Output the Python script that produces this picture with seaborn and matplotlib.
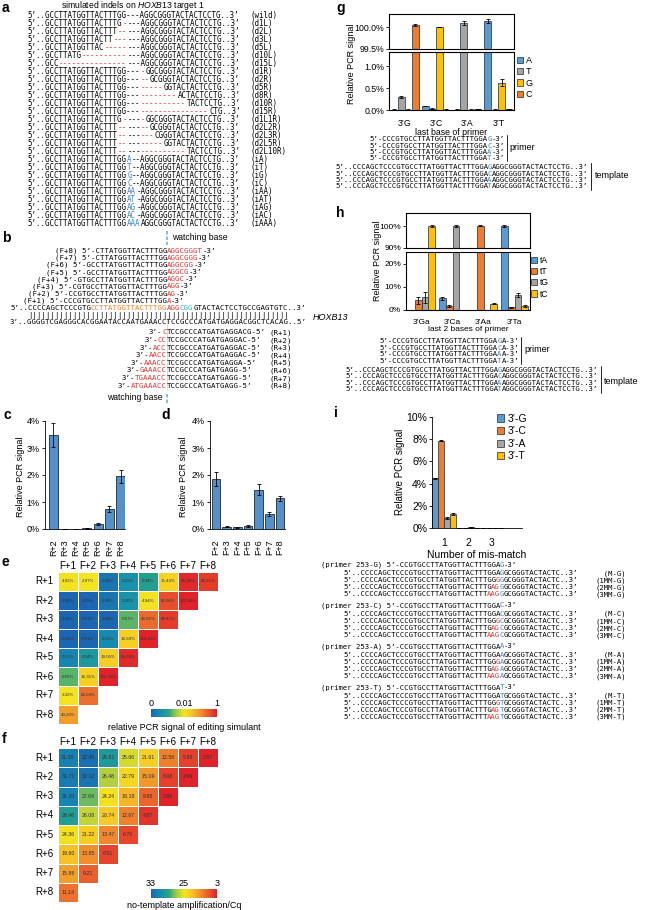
import re
import numpy as np
import pandas as pd
import matplotlib
matplotlib.use('Agg')
import matplotlib.pyplot as plt
from matplotlib.colors import LinearSegmentedColormap, Normalize
from matplotlib.cm import ScalarMappable
from matplotlib.patches import Patch
import seaborn as sns

sns.set_theme(style='white')
plt.rcParams['font.family'] = ['Liberation Sans', 'DejaVu Sans']
plt.rcParams.update({
    'text.color': 'black', 'axes.labelcolor': 'black',
    'xtick.color': 'black', 'ytick.color': 'black',
    'axes.edgecolor': 'black', 'axes.linewidth': 0.6,
    'mathtext.fontset': 'custom', 'mathtext.it': 'Liberation Sans:italic',
    'mathtext.rm': 'Liberation Sans',
})

#%% data
# a: simulated indels
a_seqs = [
    "5’..GCCTTATGGTTACTTTGG---AGGCGGGTACTACTCCTG..3’",
    "5’..GCCTTATGGTTACTTTG{r|-}---AGGCGGGTACTACTCCTG..3’",
    "5’..GCCTTATGGTTACTTT{r|--}---AGGCGGGTACTACTCCTG..3’",
    "5’..GCCTTATGGTTACTT{r|---}---AGGCGGGTACTACTCCTG..3’",
    "5’..GCCTTATGGTTAC{r|-----}---AGGCGGGTACTACTCCTG..3’",
    "5’..GCCTTATG{r|----------}---AGGCGGGTACTACTCCTG..3’",
    "5’..GCC{r|---------------}---AGGCGGGTACTACTCCTG..3’",
    "5’..GCCTTATGGTTACTTTGG---{r|-}GGCGGGTACTACTCCTG..3’",
    "5’..GCCTTATGGTTACTTTGG---{r|--}GCGGGTACTACTCCTG..3’",
    "5’..GCCTTATGGTTACTTTGG---{r|-----}GGTACTACTCCTG..3’",
    "5’..GCCTTATGGTTACTTTGG---{r|--------}ACTACTCCTG..3’",
    "5’..GCCTTATGGTTACTTTGG---{r|----------}TACTCCTG..3’",
    "5’..GCCTTATGGTTACTTTGG---{r|---------------}CTG..3’",
    "5’..GCCTTATGGTTACTTTG{r|-}---{r|-}GGCGGGTACTACTCCTG..3’",
    "5’..GCCTTATGGTTACTTT{r|--}---{r|--}GCGGGTACTACTCCTG..3’",
    "5’..GCCTTATGGTTACTTT{r|--}---{r|---}CGGGTACTACTCCTG..3’",
    "5’..GCCTTATGGTTACTTT{r|--}---{r|-----}GGTACTACTCCTG..3’",
    "5’..GCCTTATGGTTACTTT{r|--}---{r|----------}TACTCCTG..3’",
    "5’..GCCTTATGGTTACTTTGG{b|A}--AGGCGGGTACTACTCCTG..3’",
    "5’..GCCTTATGGTTACTTTGG{b|T}--AGGCGGGTACTACTCCTG..3’",
    "5’..GCCTTATGGTTACTTTGG{b|G}--AGGCGGGTACTACTCCTG..3’",
    "5’..GCCTTATGGTTACTTTGG{b|C}--AGGCGGGTACTACTCCTG..3’",
    "5’..GCCTTATGGTTACTTTGG{b|AA}-AGGCGGGTACTACTCCTG..3’",
    "5’..GCCTTATGGTTACTTTGG{b|AT}-AGGCGGGTACTACTCCTG..3’",
    "5’..GCCTTATGGTTACTTTGG{b|AG}-AGGCGGGTACTACTCCTG..3’",
    "5’..GCCTTATGGTTACTTTGG{b|AC}-AGGCGGGTACTACTCCTG..3’",
    "5’..GCCTTATGGTTACTTTGG{b|AAA}AGGCGGGTACTACTCCTG..3’",
]
a_names = ['(wild)', '(d1L)', '(d2L)', '(d3L)', '(d5L)', '(d10L)', '(d15L)',
           '(d1R)', '(d2R)', '(d5R)', '(d8R)', '(d10R)', '(d15R)',
           '(d1L1R)', '(d2L2R)', '(d2L3R)', '(d2L5R)', '(d2L10R)',
           '(iA)', '(iT)', '(iG)', '(iC)', '(iAA)', '(iAT)', '(iAG)', '(iAC)', '(iAAA)']

# b: primers on HOXB13
b_fwd_names = ['(F+8)', '(F+7)', '(F+6)', '(F+5)', '(F+4)', '(F+3)', '(F+2)', '(F+1)']
b_fwd_black = ['CTTATGGTTACTTTGG', 'CTTATGGTTACTTTGG', 'GCCTTATGGTTACTTTGG', 'GCCTTATGGTTACTTTGG',
               'GTGCCTTATGGTTACTTTGG', 'CGTGCCTTATGGTTACTTTGG', 'CCGTGCCTTATGGTTACTTTGG',
               'CCCGTGCCTTATGGTTACTTTGG']
b_fwd_red = ['AGGCGGGT', 'AGGCGGG', 'AGGCGG', 'AGGCG', 'AGGC', 'AGG', 'AG', 'A']
b_top = "5’..CCCCAGCTCCCGTG{o|CCTTATGGTTACTTTGG}{r|AGG}{c|CGG}GTACTACTCCTGCCGAGTGTC..3’"
b_bottom = "3’..GGGGTCGAGGGCACGGAATACCAATGAAACCTCCGCCCATGATGAGGACGGCTCACAG..5’"
b_rev_names = ['(R+1)', '(R+2)', '(R+3)', '(R+4)', '(R+5)', '(R+6)', '(R+7)', '(R+8)']
b_rev_red = ['C', 'CC', 'ACC', 'AACC', 'AAACC', 'GAAACC', 'TGAAACC', 'ATGAAACC']
b_rev_black = ['TCCGCCCATGATGAGGACG', 'TCCGCCCATGATGAGGAC', 'TCCGCCCATGATGAGGAC',
               'TCCGCCCATGATGAGGAC', 'TCCGCCCATGATGAGGA', 'TCCGCCCATGATGAGG',
               'TCCGCCCATGATGAGG', 'TCCGCCCATGATGAGG']

# c / d: relative PCR signal (%)
c_labels = ['R+2', 'R+3', 'R+4', 'R+5', 'R+6', 'R+7', 'R+8']
c_signal = [3.48, 0.01, 0.01, 0.02, 0.19, 0.75, 1.96]
c_err = [0.45, 0.004, 0.004, 0.005, 0.03, 0.12, 0.24]
d_labels = ['F+2', 'F+3', 'F+4', 'F+5', 'F+6', 'F+7', 'F+8']
d_signal = [1.84, 0.08, 0.07, 0.11, 1.46, 0.56, 1.14]
d_err = [0.26, 0.02, 0.02, 0.02, 0.20, 0.06, 0.10]

# e / f: heatmaps
hm_rows = ['R+1', 'R+2', 'R+3', 'R+4', 'R+5', 'R+6', 'R+7', 'R+8']
hm_cols = ['F+1', 'F+2', 'F+3', 'F+4', 'F+5', 'F+6', 'F+7', 'F+8']
e_signal = [
    [4.02, 2.97, 0.08, 0.19, 0.34, 15.43, 96.98, 89.21],
    [0.00, 0.02, 0.08, 0.20, 4.94, 80.06, 102.49],
    [0.00, 0.01, 0.04, 0.67, 66.81, 88.87],
    [0.01, 0.01, 0.15, 16.69, 106.63],
    [0.12, 0.24, 19.05, 96.59],
    [0.65, 16.31, 102.76],
    [3.32, 65.09],
    [43.20],
]
f_cq = [
    [31.38, 32.45, 29.81, 25.66, 21.61, 12.56, 5.99, 2.67],
    [31.71, 32.12, 26.48, 22.79, 15.09, 6.08, 2.69],
    [31.20, 27.64, 24.24, 18.18, 9.95, 2.68],
    [29.46, 26.08, 20.74, 12.67, 4.87],
    [24.36, 21.22, 13.47, 6.70],
    [19.60, 13.85, 6.51],
    [15.86, 9.21],
    [11.14],
]

# g: last base of primer
g_groups = ['3’G', '3’C', '3’A', '3’T']
g_bases = ['A', 'T', 'G', 'C']
g_A = [0.01, 0.09, 0.01, 100.14]
g_T = [0.30, 0.03, 100.10, 0.01]
g_G = [0.01, 100.00, 0.01, 0.62]
g_C = [100.05, 0.01, 0.02, 0.02]
g_A_err = [0.003, 0.01, 0.003, 0.04]
g_T_err = [0.03, 0.005, 0.05, 0.003]
g_G_err = [0.003, 0.005, 0.003, 0.08]
g_C_err = [0.03, 0.003, 0.005, 0.005]
g_primers = ["5’-CCCGTGCCTTATGGTTACTTTGGA{b|%s}-3’" % b for b in 'GCAT']
g_templates = ["5’..CCCAGCTCCCGTGCCTTATGGTTACTTTGGA{b|%s}AGGCGGGTACTACTCCTG..3’" % b for b in 'GCAT']

# h: last 2 bases of primer
h_groups = ['3’Ga', '3’Ca', '3’Aa', '3’Ta']
h_bases = ['tA', 'tT', 'tG', 'tC']
h_tA = [0.10, 5.00, 0.10, 100.0]
h_tT = [4.30, 1.80, 100.2, 1.10]
h_tG = [5.50, 100.0, 0.10, 6.50]
h_tC = [100.0, 0.10, 2.70, 1.80]
h_tA_err = [0.05, 0.7, 0.05, 0.3]
h_tT_err = [1.5, 0.3, 0.3, 0.3]
h_tG_err = [2.3, 0.3, 0.05, 1.0]
h_tC_err = [0.3, 0.05, 0.3, 0.3]
h_primers = ["5’-CCCGTGCCTTATGGTTACTTTGGA{b|%s}A-3’" % b for b in 'GCAT']

# i: number of mismatches
i_groups = ['1', '2', '3']
i_primers = ['3’-G', '3’-C', '3’-A', '3’-T']
i_G = [4.48, 0.02, 0.01]
i_C = [7.87, 0.03, 0.01]
i_A = [0.90, 0.05, 0.02]
i_T = [1.28, 0.03, 0.02]
i_G_err = [0.05, 0.005, 0.003]
i_C_err = [0.05, 0.005, 0.003]
i_A_err = [0.05, 0.01, 0.005]
i_T_err = [0.08, 0.005, 0.005]

#%% style
W, H = 660, 910
MONO = 'DejaVu Sans Mono'
BLUE, ORANGE, GRAY, YELLOW = '#5b9bd5', '#ed7d31', '#a5a5a5', '#ffc000'
BAR = '#5590cd'
EDGE = '#1e2a36'
SEQ_COLORS = {'r': '#e2312d', 'b': '#3b84c8', 'o': '#ec7f2c', 'c': '#22aee0'}
TOKEN = re.compile(r'\{(\w)\|([^}]*)\}|([^{]+)')
HEAT = LinearSegmentedColormap.from_list('heat', [
    (0.0, '#1a66b3'), (0.15, '#1690b0'), (0.27, '#29a680'), (0.38, '#9dc94a'),
    (0.5, '#f3e51f'), (0.62, '#f6c325'), (0.76, '#f08a2d'), (1.0, '#e0232b')])

fig = plt.figure(figsize=(W / 100, H / 100), dpi=100)
tax = fig.add_axes([0, 0, 1, 1], zorder=10)
tax.set_xlim(0, W)
tax.set_ylim(H, 0)
tax.axis('off')


def px_axes(x0, y0, x1, y1):
    ax = fig.add_axes([x0 / W, 1 - y1 / H, (x1 - x0) / W, (y1 - y0) / H])
    ax.set_facecolor('none')
    return ax


def seq(x, y, s, fs, col=0):
    cw = 0.60205 * fs * 100 / 72
    yb = y + 0.365 * fs * 100 / 72
    for m in TOKEN.finditer(s):
        if m.group(3) is not None:
            txt, c = m.group(3), 'black'
        else:
            txt, c = m.group(2), SEQ_COLORS[m.group(1)]
        tax.text(x + col * cw, yb, txt, color=c, fontsize=fs, family=MONO, ha='left', va='baseline')
        col += len(txt)
    return cw


def label(x, y, s, fs=6.5, **kw):
    tax.text(x, y, s, fontsize=fs, va='center', **kw)


for ch, (x, y) in {'a': (2, 8), 'b': (2, 238), 'c': (4, 415), 'd': (161, 415), 'e': (2, 562),
                   'f': (2, 739), 'g': (336, 8), 'h': (336, 213), 'i': (334, 413)}.items():
    tax.text(x, y, ch, fontsize=10, fontweight='bold', va='center', ha='left')

#%% a
label(133, 5, 'simulated indels on $\\it{HOXB13}$ target 1', 6.2, ha='center')
fs_a = 5.45
for k, (s, n) in enumerate(zip(a_seqs, a_names)):
    y = 15.7 + 8 * k
    seq(27, y, s, fs_a)
    seq(27, y, n, fs_a, col=49)

#%% b
fs_b = 5.35
bx = 10
cwb = 0.60205 * fs_b * 100 / 72
xw = bx + 35 * cwb
for k, (n, blk, red) in enumerate(zip(b_fwd_names, b_fwd_black, b_fwd_red)):
    start = 35 - (len(n) + 4 + len(blk))
    seq(bx, 250 + 7.14 * k, '%s 5’-%s{r|%s}-3’' % (n, blk, red), fs_b, col=start)
seq(bx, 307.3, b_top, fs_b)
seq(bx, 314.5, '|' * 58, fs_b, col=4)
seq(bx, 321.7, b_bottom, fs_b)
for k, (n, red, blk) in enumerate(zip(b_rev_names, b_rev_red, b_rev_black)):
    y = 331.7 + 7.6 * k
    seq(bx, y, '3’-{r|%s}%s-5’' % (red, blk), fs_b, col=32 - len(red))
    seq(bx, y, n, fs_b, col=58)
tax.text(313, 317, 'HOXB13', fontsize=6.5, style='italic', va='center', ha='left')
tax.plot([xw, xw], [231, 245], color='#7ab8e0', lw=1.3, ls=(0, (2, 1)))
tax.plot([xw, xw], [318, 390], color='#a9d6f0', lw=0.5)
tax.plot([xw, xw], [394, 403], color='#7ab8e0', lw=1.3, ls=(0, (2, 1)))
label(172, 238, 'watching base', 6.2, ha='left')
label(163, 398, 'watching base', 6.2, ha='right')


#%% c / d
def single_bars(ax, labels, vals, errs, xlim):
    sns.barplot(x=labels, y=vals, color=BAR, saturation=1, width=0.8,
                edgecolor=EDGE, linewidth=0.6, ax=ax)
    xs = [p.get_x() + p.get_width() / 2 for p in ax.patches]
    ax.errorbar(xs, vals, yerr=errs, fmt='none', ecolor='black', elinewidth=0.6,
                capsize=1.6, capthick=0.6)
    ax.set_xlim(*xlim)
    ax.set_ylim(0, 4)
    ax.set_yticks(range(5))
    ax.set_yticklabels(['%d%%' % t for t in range(5)])
    ax.tick_params(axis='y', left=True, length=2.5, width=0.6, labelsize=6.5, pad=1.5)
    ax.tick_params(axis='x', bottom=False, labelsize=6.5, pad=1.5, labelrotation=90)
    sns.despine(ax=ax)


ax_c = px_axes(45, 421, 125, 529)
single_bars(ax_c, c_labels, c_signal, c_err, (-0.75, 6.4))
ax_d = px_axes(210, 421, 285, 529)
single_bars(ax_d, d_labels, d_signal, d_err, (-0.56, 6.47))
label(21, 477, 'Relative PCR signal', 6.5, rotation=90, ha='center')
label(183, 477, 'Relative PCR signal', 6.5, rotation=90, ha='center')


#%% e / f heatmaps
def pad(rows):
    return [r + [np.nan] * (8 - len(r)) for r in rows]


def e_pos(v):
    v = np.asarray(v, float)
    with np.errstate(invalid='ignore', divide='ignore'):
        lo = np.interp(np.log10(np.clip(v, 0.05, None)), [np.log10(0.05), np.log10(3.0)], [0, 0.5])
        hi = np.interp(v, [3.0, 100.0], [0.5, 1.0])
    return np.where(np.isnan(v), np.nan, np.where(v < 3.0, lo, hi))


def f_pos(v):
    v = np.asarray(v, float)
    return np.where(np.isnan(v), np.nan, np.interp(v, [3, 25, 33], [1.0, 0.5, 0.0]))


def heat(ax, vals, pos, fmt, fs):
    lab = np.array([['' if np.isnan(x) else fmt % x for x in r] for r in vals])
    sns.heatmap(pd.DataFrame(pos, index=hm_rows, columns=hm_cols), annot=lab, fmt='',
                cmap=HEAT, vmin=0, vmax=1, cbar=False, linewidths=0.6, linecolor='white',
                annot_kws={'fontsize': fs, 'color': '#303030'}, ax=ax)
    ax.xaxis.tick_top()
    ax.tick_params(length=0, labelsize=7, pad=1)
    ax.tick_params(axis='y', labelrotation=0, pad=3)
    ax.tick_params(axis='x', labelrotation=0)


def cbar(rect, ticks, text, ty):
    cax = px_axes(*rect)
    cb = fig.colorbar(ScalarMappable(norm=Normalize(0, 1), cmap=HEAT), cax=cax, orientation='horizontal')
    cb.set_ticks([0, 0.5, 1])
    cb.set_ticklabels(ticks)
    cb.outline.set_visible(False)
    cax.xaxis.set_ticks_position('top')
    cax.tick_params(length=0, labelsize=6.5, pad=1)
    label((rect[0] + rect[2]) / 2, ty, text, 6.5, ha='center')


e_vals = np.array(pad(e_signal), float)
f_vals = np.array(pad(f_cq), float)
ax_e = px_axes(58, 572, 218, 724)
heat(ax_e, e_vals, e_pos(e_vals), '%.2f%%', 3.2)
cbar((151, 709, 217, 717), ['0', '0.01', '1'], 'relative PCR signal of editing simulant', 727)
ax_f = px_axes(58, 748, 218, 902)
heat(ax_f, f_vals, f_pos(f_vals), '%.2f', 3.8)
cbar((151, 889, 217, 898), ['33', '25', '3'], 'no-template amplification/Cq', 906)


#%% g / h / i grouped bars
def grouped(ax, groups, levels, series, errs, palette, width=0.9):
    long = pd.DataFrame([(g, lev, v) for lev, vals in zip(levels, series) for g, v in zip(groups, vals)],
                        columns=['group', 'base', 'signal'])
    sns.barplot(data=long, x='group', y='signal', hue='base', order=groups, hue_order=levels,
                palette=palette, width=width, saturation=1, edgecolor=EDGE, linewidth=0.5,
                errorbar=None, legend=False, ax=ax)
    for cont, err in zip(ax.containers, errs):
        xs = [b.get_x() + b.get_width() / 2 for b in cont]
        ys = [b.get_height() for b in cont]
        ax.errorbar(xs, ys, yerr=err, fmt='none', ecolor='black', elinewidth=0.6,
                    capsize=1.4, capthick=0.6)
    ax.set_xlabel('')
    ax.set_ylabel('')


def legend(ax, levels, palette, anchor, fs):
    handles = [Patch(facecolor=palette[l], edgecolor=EDGE, linewidth=0.5, label=l) for l in levels]
    ax.legend(handles=handles, loc='upper left', bbox_to_anchor=anchor, frameon=False, fontsize=fs,
              handlelength=0.7, handleheight=0.7, handletextpad=0.3, labelspacing=0.25,
              borderaxespad=0, borderpad=0)


def broken(top_rect, bot_rect, groups, levels, series, errs, palette, top_lim, top_ticks, top_fmt,
           bot_lim, bot_ticks, bot_fmt, fs):
    axs = []
    for rect, lim, ticks, fmt in ((top_rect, top_lim, top_ticks, top_fmt),
                                  (bot_rect, bot_lim, bot_ticks, bot_fmt)):
        ax = px_axes(*rect)
        grouped(ax, groups, levels, series, errs, palette)
        ax.set_xlim(-0.5, len(groups) - 0.5)
        ax.set_ylim(*lim)
        ax.set_yticks(ticks)
        ax.set_yticklabels([fmt % t for t in ticks])
        ax.tick_params(axis='y', left=True, length=2, width=0.6, labelsize=fs, pad=1.5)
        ax.tick_params(axis='x', bottom=False, labelsize=fs, pad=0.5)
        for sp in ax.spines.values():
            sp.set_linewidth(0.8)
        axs.append(ax)
    axs[0].tick_params(labelbottom=False)
    return axs


g_pal = {'A': BLUE, 'T': GRAY, 'G': YELLOW, 'C': ORANGE}
g_top, g_bot = broken((389, 14, 514, 49), (389, 52, 514, 110), g_groups, g_bases,
                      [g_A, g_T, g_G, g_C], [g_A_err, g_T_err, g_G_err, g_C_err], g_pal,
                      (99.5, 100.3), [99.5, 100.0], '%.1f%%', (0, 1.32), [0, 0.5, 1.0], '%.1f%%', 6.3)
g_bot.set_xlabel('last base of primer', fontsize=6.3, labelpad=0)
legend(g_bot, g_bases, g_pal, (1.02, 0.93), 6.5)
label(351, 64, 'Relative PCR signal', 6.5, rotation=90, ha='center')

fs_g = 5.2
cwg = 0.60205 * fs_g * 100 / 72
gx = 335
for k, s in enumerate(g_primers):
    seq(gx, 138.5 + 6.4 * k, s, fs_g, col=8)
for k, s in enumerate(g_templates):
    seq(gx, 166.5 + 6.4 * k, s, fs_g)
px_ = gx + 39 * cwg + 2
tax.plot([px_, px_], [135, 161], color='black', lw=0.6)
label(px_ + 3, 148, 'primer', 6.5, ha='left')
tx_ = gx + 58 * cwg + 4
tax.plot([tx_, tx_], [163, 189.5], color='black', lw=0.6)
label(tx_ + 4, 176, 'template', 6.5, ha='left')

h_pal = {'tA': BLUE, 'tT': ORANGE, 'tG': GRAY, 'tC': YELLOW}
h_top, h_bot = broken((406, 213, 530, 248), (406, 252, 530, 310), h_groups, h_bases,
                      [h_tA, h_tT, h_tG, h_tC], [h_tA_err, h_tT_err, h_tG_err, h_tC_err], h_pal,
                      (90, 106), [90, 100], '%d%%', (0, 25), [0, 10, 20], '%d%%', 6.0)
h_bot.set_xlabel('last 2 bases of primer', fontsize=6.0, labelpad=0)
legend(h_bot, h_bases, h_pal, (1.01, 0.93), 6.2)
label(377, 261, 'Relative PCR signal', 6.5, rotation=90, ha='center')

hx = 345
for k, s in enumerate(h_primers):
    seq(hx, 340.5 + 6.5 * k, s, fs_g, col=8)
for k, s in enumerate(g_templates):
    seq(hx, 369 + 6.6 * k, s, fs_g)
px_ = hx + 40 * cwg + 2
tax.plot([px_, px_], [337, 363.5], color='black', lw=0.6)
label(px_ + 3, 350, 'primer', 6.5, ha='left')
tx_ = hx + 58 * cwg + 4
tax.plot([tx_, tx_], [365.5, 392.5], color='black', lw=0.6)
label(tx_ + 3, 381, 'template', 6.5, ha='left')

i_pal = {'3’-G': BLUE, '3’-C': ORANGE, '3’-A': GRAY, '3’-T': YELLOW}
ax_i = px_axes(432, 417, 522, 528)
grouped(ax_i, i_groups, i_primers, [i_G, i_C, i_A, i_T], [i_G_err, i_C_err, i_A_err, i_T_err],
        i_pal, width=0.98)
ax_i.set_xlim(-0.5, 3.25)
ax_i.set_ylim(0, 10)
ax_i.set_yticks(range(0, 11, 2))
ax_i.set_yticklabels(['%d%%' % t for t in range(0, 11, 2)])
ax_i.tick_params(axis='y', left=True, length=2, width=0.6, labelsize=7.5, pad=1.5)
ax_i.tick_params(axis='x', bottom=False, labelsize=7.5, pad=1.5)
ax_i.set_xlabel('Number of mis-match', fontsize=7.5, labelpad=1)
sns.despine(ax=ax_i)
legend(ax_i, i_primers, i_pal, (0.72, 1.03), 7.5)
label(400, 472, 'Relative PCR signal', 7, rotation=90, ha='center')

fs_i = 5.2
ix = 343
mm = ['GGA{b|%s}', 'GG{r|G}{b|%s}', 'G{r|AG}{b|%s}', '{r|AAG}{b|%s}']
mm_names = ['(M-%s)', '(1MM-%s)', '(2MM-%s)', '(3MM-%s)']
for j, base in enumerate('GCAT'):
    y0 = 564 + 40.8 * j
    seq(ix, y0, '(primer 253-%s) 5’-CCGTGCCTTATGGTTACTTTGGA{b|%s}-3’' % (base, base), fs_i, col=-5)
    for k in range(4):
        y = y0 + 8.5 + 7.1 * k
        seq(ix, y, '5’..CCCCAGCTCCCGTGCCTTATGGTTACTTT' + (mm[k] % base) + 'GCGGGTACTACTC..3’', fs_i)
        seq(ix, y, (mm_names[k] % base).rjust(7), fs_i, col=58)

fig.savefig('out.png', dpi=100)
